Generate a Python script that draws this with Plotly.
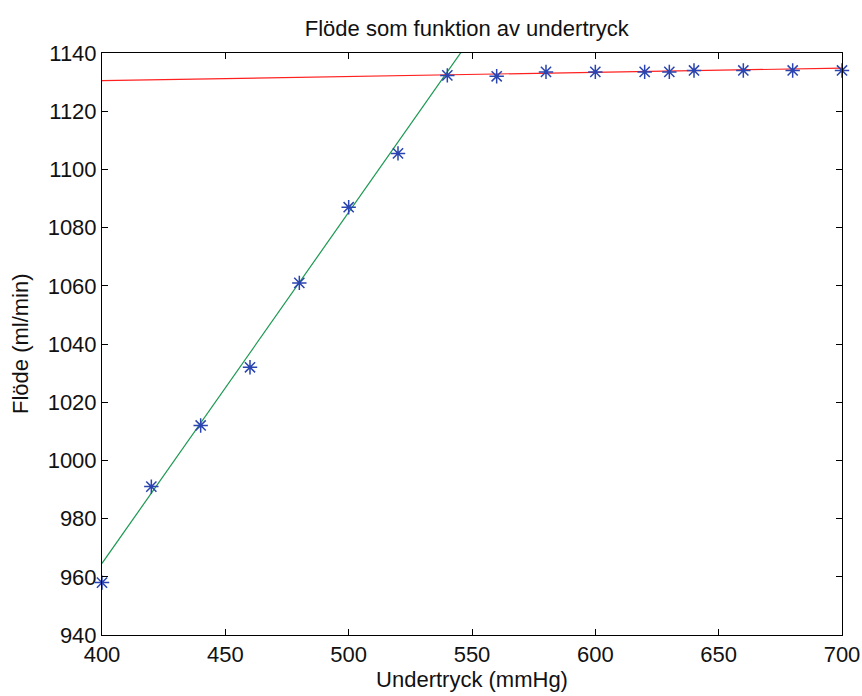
import plotly.graph_objects as go

# Measured data
x_meas = [400, 420, 440, 460, 480, 500, 520, 540, 560, 580, 600, 620, 630, 640, 660, 680, 700]
y_meas = [958, 991, 1012, 1032, 1061, 1087, 1105.5, 1132.3, 1132, 1133.5, 1133.5, 1133.5, 1133.5, 1134, 1134, 1134, 1134]

# Fitted lines
x_fit1 = [400, 550]
y_fit1 = [964.6, 1145.6]
x_fit2 = [400, 700]
y_fit2 = [1130.5, 1134.8]

x_ticks = [400, 450, 500, 550, 600, 650, 700]
y_ticks = [940, 960, 980, 1000, 1020, 1040, 1060, 1080, 1100, 1120, 1140]

font = "Liberation Sans, Arial, sans-serif"

fig = go.Figure()
fig.add_trace(go.Scatter(x=x_fit1, y=y_fit1, mode="lines",
                         line=dict(color="#1a9850", width=1.2), showlegend=False))
fig.add_trace(go.Scatter(x=x_fit2, y=y_fit2, mode="lines",
                         line=dict(color="#ff2020", width=1.2), showlegend=False))
fig.add_trace(go.Scatter(x=x_meas, y=y_meas, mode="markers",
                         marker=dict(symbol="asterisk-open", size=12, color="#2a44b0",
                                     line=dict(color="#2a44b0", width=1.5)),
                         showlegend=False, cliponaxis=False))

axis_common = dict(showgrid=False, zeroline=False, showline=True, linecolor="black",
                   linewidth=1, mirror="ticks", ticks="inside", ticklen=6, automargin=False,
                   tickcolor="black", tickfont=dict(family=font, size=22, color="#111"))

fig.update_layout(
    width=862, height=696,
    margin=dict(l=102, r=20, t=53, b=61),
    plot_bgcolor="white", paper_bgcolor="white",
    title=dict(text="Flöde som funktion av undertryck", x=0.493,
               xref="paper", xanchor="center", y=1 - 28 / 696, yanchor="middle",
               font=dict(family=font, size=22, color="#111")),
    xaxis=dict(range=[400, 700], tickvals=x_ticks, title=dict(text="Undertryck (mmHg)",
               font=dict(family=font, size=22, color="#111"), standoff=2), **axis_common),
    yaxis=dict(range=[940, 1140], tickvals=y_ticks, **axis_common),
    annotations=[dict(text="Flöde (ml/min)", textangle=-90, xref="paper", yref="paper",
                      x=-(102 - 20) / 740, y=0.5, xanchor="center", yanchor="middle",
                      showarrow=False, font=dict(family=font, size=22, color="#111"))],
)

fig.write_html("out.html")
